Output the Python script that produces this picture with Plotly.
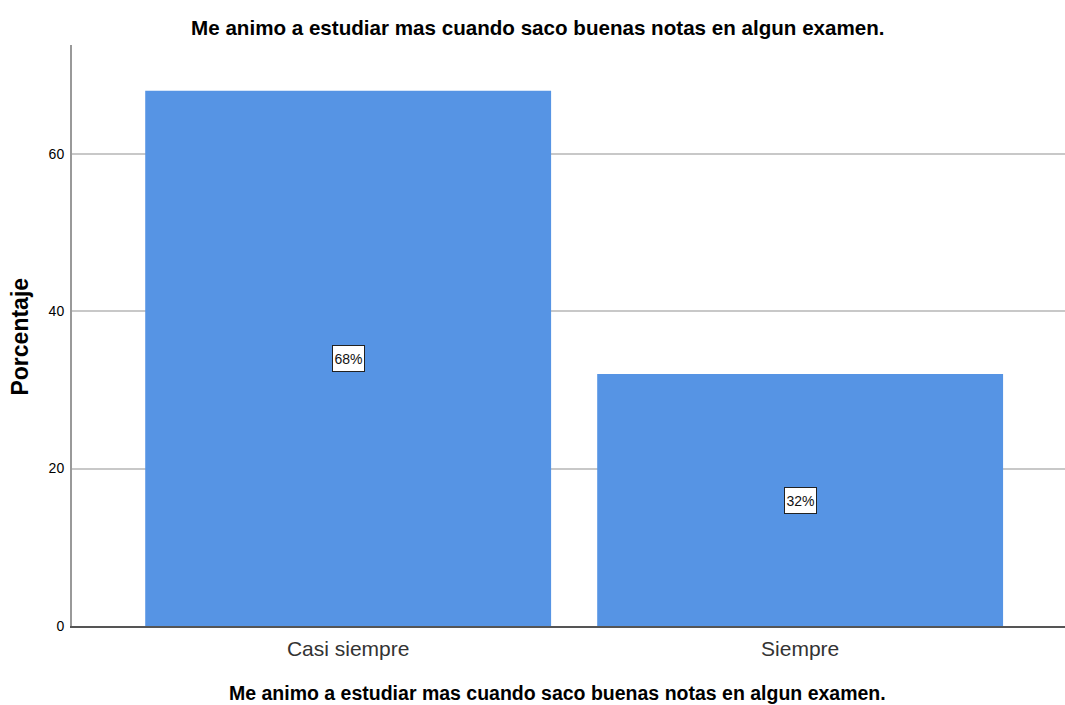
import plotly.graph_objects as go

# datos del grafico
categorias = ["Casi siempre", "Siempre"]
porcentajes = [68, 32]
etiquetas = ["68%", "32%"]
ticks_y = [0, 20, 40, 60]

titulo = "Me animo a estudiar mas cuando saco buenas notas en algun examen."
fuente = "Liberation Sans, Arial"

fig = go.Figure()

fig.add_trace(go.Bar(
    x=categorias,
    y=porcentajes,
    width=0.898,
    marker=dict(color="#5694e4", line=dict(width=0)),
    hoverinfo="skip"
))

# etiquetas dentro de las barras
for cat, val, txt in zip(categorias, porcentajes, etiquetas):
    fig.add_annotation(
        x=cat, y=val / 2, text=txt, showarrow=False,
        font=dict(family=fuente, size=14, color="#111111"),
        width=29, height=23,
        bgcolor="white", bordercolor="#222222", borderwidth=1, borderpad=1
    )

# titulos de ejes
fig.add_annotation(
    xref="paper", yref="paper", x=0.489, y=-0.1153, yanchor="middle",
    text="<b>" + titulo + "</b>", showarrow=False,
    font=dict(family=fuente, size=19.5, color="#000000")
)
fig.add_annotation(
    xref="paper", yref="paper", x=-0.0519, y=0.499,
    xanchor="center", yanchor="middle",
    text="<b>Porcentaje</b>", textangle=-90, showarrow=False,
    font=dict(family=fuente, size=23, color="#000000")
)

fig.update_layout(
    width=1065, height=705,
    margin=dict(l=72, r=0, t=45, b=79),
    paper_bgcolor="white", plot_bgcolor="white",
    showlegend=False,
    title=dict(
        text="<b>" + titulo + "</b>",
        x=0.505, xanchor="center", y=1 - 28 / 705, yanchor="middle",
        font=dict(family=fuente, size=20.6, color="#000000")
    ),
    xaxis=dict(
        range=[-0.611, 1.586],
        showgrid=False,
        showline=True, linecolor="#555555", linewidth=1.5,
        ticks="", ticklabelstandoff=3,
        tickfont=dict(family=fuente, size=21, color="#333333")
    ),
    yaxis=dict(
        range=[0, 73.8],
        tickvals=ticks_y,
        showgrid=True, gridcolor="#c8c8c8", gridwidth=1.5,
        zeroline=False,
        showline=True, linecolor="#999999", linewidth=2,
        ticks="", ticklabelstandoff=3,
        tickfont=dict(family=fuente, size=14, color="#000000")
    ),
    bargap=0.1
)

# quitar el margen del body para que la figura ocupe toda la ventana
fig.write_html("out.html", config={"displayModeBar": False},
               post_script="document.body.style.margin='0px';")
